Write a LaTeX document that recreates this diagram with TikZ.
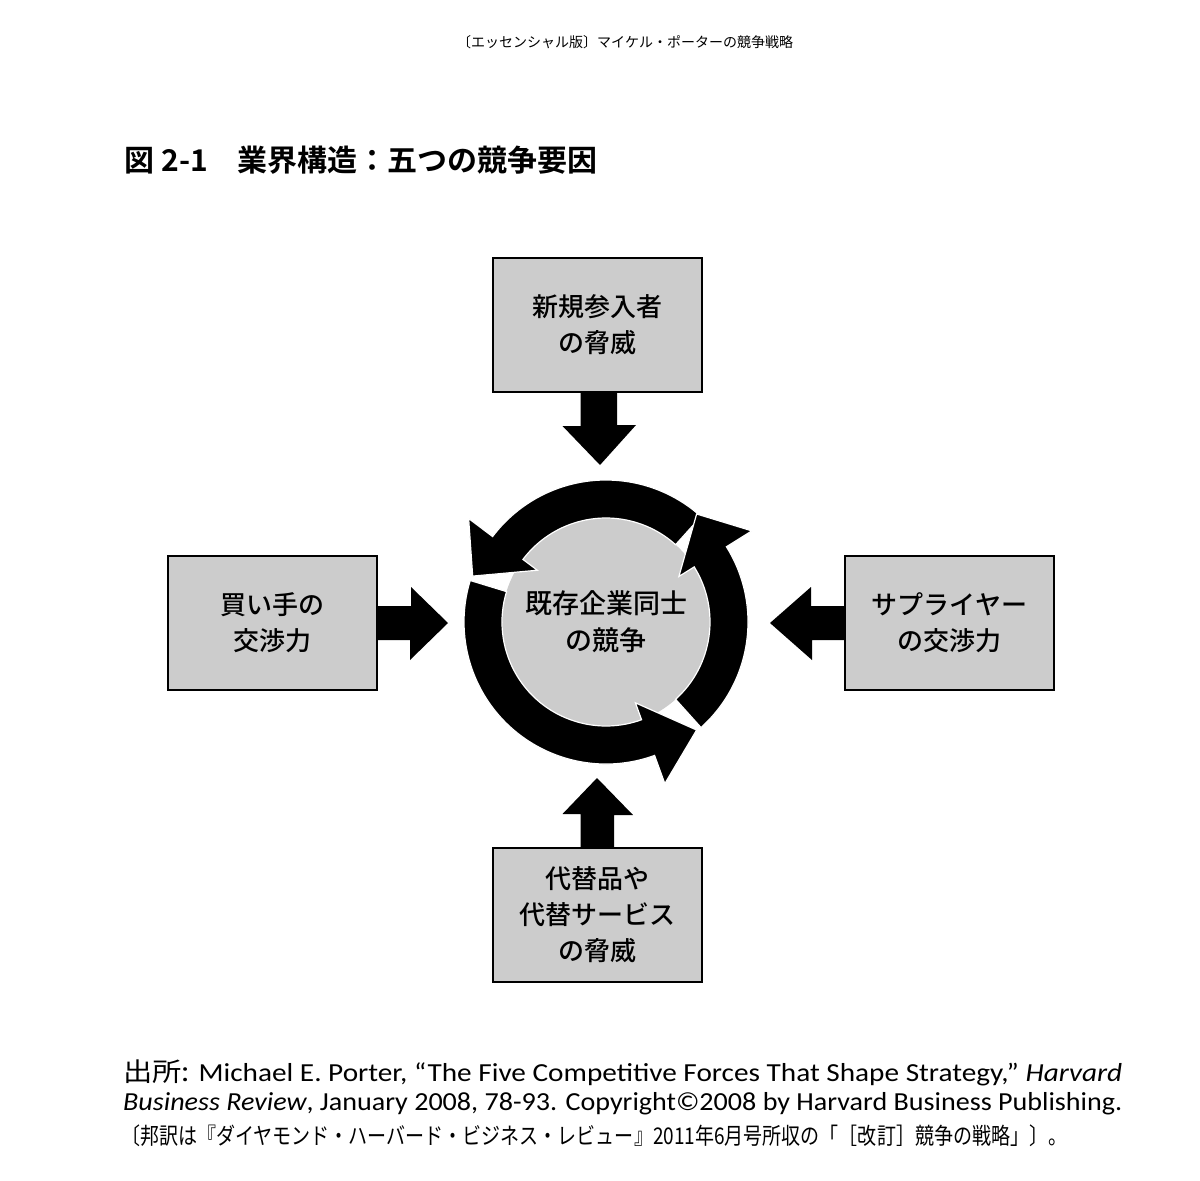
\documentclass[tikz,border=0pt]{standalone}
\usepackage{fontspec}
\usepackage{graphicx}
\setmainfont{Carlito}
\newfontfamily\jp{Noto Sans CJK JP}
\newfontfamily\jpb{Noto Sans CJK JP Medium}
\newfontfamily\jpbb{Noto Sans CJK JP Bold}
\begin{document}
\begin{tikzpicture}[x=1pt,y=-1pt,
  fbox/.style={draw=black,line width=2pt,fill=black!20,minimum width=209pt,minimum height=134pt,inner sep=0pt,align=center,font=\jpb\fontsize{26}{36}\selectfont},
  blk/.style={fill=black},
  ring/.style={fill=black,draw=white,line width=1.2pt}]
\useasboundingbox (0,0) rectangle (1200,1181);
\node[font=\jp\fontsize{14}{16}\selectfont] (hdr) at (625,42) {〔エッセンシャル版〕マイケル・ポーターの競争戦略};
\node[anchor=west,font=\jpbb\fontsize{30}{34}\selectfont] (ttl) at (121,160) {図 2-1\hspace{30pt}業界構造：五つの競争要因};
\node[fbox] (top) at (597.5,325) {新規参入者\\の脅威};
\node[fbox] (left) at (272.5,623) {買い手の\\交渉力};
\node[fbox] (right) at (949.5,623) {サプライヤー\\の交渉力};
\node[fbox] (bot) at (597.5,915) {代替品や\\代替サービス\\の脅威};
\coordinate (c) at (606,622);
\fill[black!20] (c) circle[radius=104];
\foreach \t/\b/\p in {48/143/161, 163/290/310, 312/392/410}{
  \fill[ring] ([shift={(-\t:104)}]c) arc[start angle=-\t,end angle=-\b,radius=104]
    -- ([shift={(-\b:86)}]c) -- ([shift={(-\p:141)}]c) -- ([shift={(-\b:172)}]c)
    -- ([shift={(-\b:142)}]c) arc[start angle=-\b,end angle=-\t,radius=142] -- cycle;
}
\node[align=center,font=\jpb\fontsize{27}{37}\selectfont] (mid) at (c) {既存企業同士\\の競争};
\fill[blk] (top.south) ++(-17,0) -- ++(0,33) -- ++(-18,0) -- (600,465) -- (636,425) -- (617,425) -- (617,392) -- cycle;
\fill[blk] (left.east) ++(0,-17) -- ++(33,0) -- ++(0,-19) -- (448,623) -- (410,660) -- (410,640) -- (377,640) -- cycle;
\fill[blk] (right.west) ++(0,-17) -- ++(-33,0) -- ++(0,-19) -- (770,623) -- (812,660) -- (812,640) -- (845,640) -- cycle;
\fill[blk] (bot.north) ++(-17,0) -- ++(0,-33) -- ++(-18,0) -- (597,778) -- (633,815) -- (614,815) -- (614,848) -- cycle;
\node[anchor=west,inner sep=0pt,font=\fontsize{26}{28}\selectfont] (cap1) at (123,1073) {\resizebox{999pt}{\height}{{\jp 出所:} Michael E. Porter, “The Five Competitive Forces That Shape Strategy,” \textit{Harvard}}};
\node[anchor=west,inner sep=0pt,font=\fontsize{26}{28}\selectfont] (cap2) at (123,1104) {\resizebox{999pt}{\height}{\textit{Business Review}, January 2008, 78-93. Copyright©2008 by Harvard Business Publishing.}};
\node[anchor=west,inner sep=0pt,font=\jp\fontsize{23}{28}\selectfont] (cap3) at (121,1136) {\resizebox{946pt}{\height}{〔邦訳は『ダイヤモンド・ハーバード・ビジネス・レビュー』2011年6月号所収の「［改訂］競争の戦略」〕。}};
\end{tikzpicture}
\end{document}
